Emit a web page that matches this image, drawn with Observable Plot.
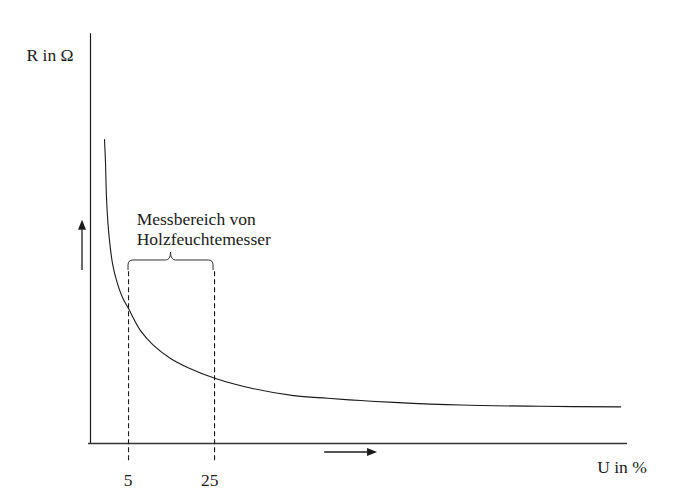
<!DOCTYPE html>
<html>
<head>
<meta charset="utf-8">
<script src="https://cdn.jsdelivr.net/npm/d3@7"></script>
<script src="https://cdn.jsdelivr.net/npm/@observablehq/plot@0.6"></script>
<style>
  html, body { margin: 0; padding: 0; background: #fff; }
  #chart svg { display: block; }
  #chart svg text { font-family: "Liberation Serif", "DejaVu Serif", serif !important; }
</style>
</head>
<body>
<div id="chart"></div>
<script>
// Wood moisture U (%) and electrical resistance R (schematic units)
const moisture   = [-0.58, -0.35, -0.12, 0.35, 1.28, 2.21, 3.6, 5.0, 7.79, 10.81, 14.77, 18.72, 25.23, 34.07, 43.37, 51.28, 58.95, 66.63, 82.21, 100.8, 119.4];
const resistance = [74.3, 68.5, 60.1, 52.1, 44.0, 39.9, 35.7, 33.0, 27.6, 24.0, 20.8, 18.6, 15.9, 13.4, 11.7, 11.05, 10.5, 10.05, 9.4, 9.1, 8.95];

// Measuring range of the moisture meter
const rangeTicks  = [5, 25];
const tickLabels  = ["5", "25"];
const rangeLabel  = "Messbereich von\nHolzfeuchtemesser";
const xAxisLabel  = "U in %";
const yAxisLabel  = "R in \u03A9";

const curve = moisture.map((u, i) => ({u, r: resistance[i]}));
const font = "Liberation Serif";
const fs = 17.5;
const ink = "#1a1a1a";

// Filled-triangle arrow drawn in data coordinates
function arrowMark(x1, y1, x2, y2) {
  return (index, scales) => {
    const X1 = scales.x(x1), Y1 = scales.y(y1), X2 = scales.x(x2), Y2 = scales.y(y2);
    const a = Math.atan2(Y2 - Y1, X2 - X1), len = 10, half = 4;
    const bx = X2 - len * Math.cos(a), by = Y2 - len * Math.sin(a);
    const g = d3.create("svg:g");
    g.append("line").attr("x1", X1).attr("y1", Y1).attr("x2", bx).attr("y2", by)
      .attr("stroke", ink).attr("stroke-width", 1.3);
    g.append("path")
      .attr("d", `M${X2},${Y2}L${bx - half * Math.sin(a)},${by + half * Math.cos(a)}L${bx + half * Math.sin(a)},${by - half * Math.cos(a)}Z`)
      .attr("fill", ink);
    return g.node();
  };
}

// Curly brace spanning the measuring range
function braceMark(u0, u1, level) {
  return (index, scales) => {
    const L = scales.x(u0), R = scales.x(u1) - 1, yb = scales.y(level), yt = yb - 10, tip = yb - 18;
    const m = (L + R) / 2, r = 5;
    const d = `M${L},${yb}L${L},${yt + r}Q${L},${yt} ${L + r},${yt}L${m - r},${yt}Q${m},${yt} ${m},${tip}`
            + `Q${m},${yt} ${m + r},${yt}L${R - r},${yt}Q${R},${yt} ${R},${yt + r}L${R},${yb}`;
    return d3.create("svg:path").attr("d", d).attr("fill", "none")
      .attr("stroke", "#333").attr("stroke-width", 1).node();
  };
}

const chart = Plot.plot({
  width: 687,
  height: 503,
  margin: 0,
  style: {background: "#fff", fontFamily: font},
  x: {domain: [-3.84, 121], range: [90, 627], axis: null},
  y: {domain: [0, 100], range: [443, 34], axis: null},
  marks: [
    // axes
    Plot.ruleX([-3.84], {y1: 0, y2: 100.2, stroke: ink, strokeWidth: 1.2}),
    Plot.ruleY([0], {x1: -4.3, x2: 121, stroke: "#333", strokeWidth: 1.4}),
    // resistance curve
    Plot.line(curve, {x: "u", y: "r", curve: "catmull-rom", stroke: ink, strokeWidth: 1.1}),
    // measuring range limits
    Plot.ruleX(rangeTicks, {y1: -4.2, y2: 42.3, stroke: ink, strokeWidth: 1.1, strokeDasharray: "5,3"}),
    braceMark(rangeTicks[0], rangeTicks[1], 42.3),
    Plot.text(tickLabels, {x: (d, i) => rangeTicks[i], y: -9, text: d => d, textAnchor: "end", dx: 4,
      fontSize: fs, fontFamily: font, fill: ink}),
    Plot.text([rangeLabel], {x: 6.9, y: 52.6, text: d => d, textAnchor: "start", lineHeight: 1.14,
      fontSize: fs, fontFamily: font, fill: ink}),
    // direction arrows
    arrowMark(-5.7, 42.3, -5.7, 54.6),
    arrowMark(50.6, -2.2, 62.9, -2.2),
    // axis titles
    Plot.text([yAxisLabel], {frameAnchor: "top-left", dx: 26, dy: 55, text: d => d, textAnchor: "start",
      lineAnchor: "middle", fontSize: fs, fontFamily: font, fill: ink}),
    Plot.text([xAxisLabel], {x: 119.7, y: -5.9, text: d => d, textAnchor: "middle",
      fontSize: fs, fontFamily: font, fill: ink})
  ]
});

document.getElementById("chart").appendChild(chart);
</script>
</body>
</html>
